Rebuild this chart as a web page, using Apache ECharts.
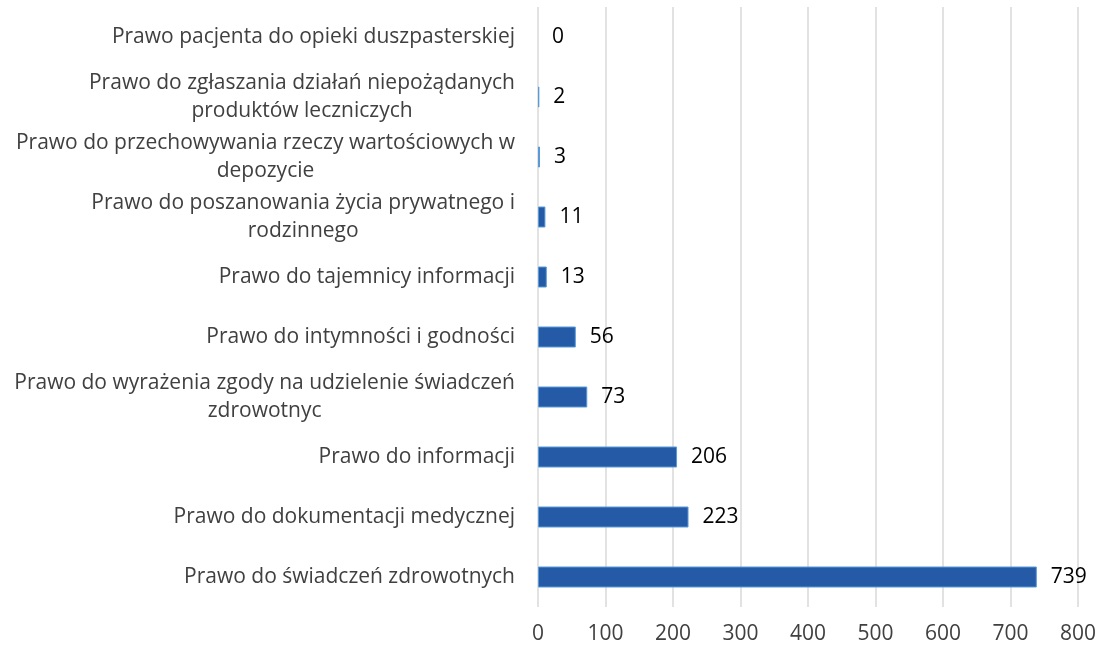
<!DOCTYPE html>
<html>
<head>
<meta charset="utf-8">
<script src="https://cdn.jsdelivr.net/npm/echarts@6/dist/echarts.min.js"></script>
<style>
  html, body { margin: 0; padding: 0; background: #fff; }
  #chart { width: 1104px; height: 647px; }
</style>
</head>
<body>
<div id="chart"></div>
<script>
// dane wykresu (od dołu do góry)
const categories = [
  'Prawo do świadczeń zdrowotnych',
  'Prawo do dokumentacji medycznej',
  'Prawo do informacji',
  'Prawo do wyrażenia zgody na udzielenie świadczeń\nzdrowotnyc',
  'Prawo do intymności i godności',
  'Prawo do tajemnicy informacji',
  'Prawo do poszanowania życia prywatnego i\nrodzinnego',
  'Prawo do przechowywania rzeczy wartościowych w\ndepozycie',
  'Prawo do zgłaszania działań niepożądanych\nproduktów leczniczych',
  'Prawo pacjenta do opieki duszpasterskiej'
]
const values = [739, 223, 206, 73, 56, 13, 11, 3, 2, 0]
const xTicks = [0, 800, 100] // min, max, interval

const chart = echarts.init(document.getElementById('chart'))

const font = 'Open Sans'

const option = {
  animation: false,
  textStyle: { fontFamily: font },
  grid: { left: 538, right: 26, top: 7, bottom: 40, containLabel: false },
  xAxis: {
    type: 'value',
    min: xTicks[0],
    max: xTicks[1],
    interval: xTicks[2],
    axisLine: { show: false },
    axisTick: { show: false },
    axisLabel: { color: '#404040', fontSize: 21, fontFamily: font, margin: 17 },
    splitLine: { lineStyle: { color: '#d9d9d9', width: 1.5 } }
  },
  yAxis: {
    type: 'category',
    data: categories,
    axisLine: { show: false },
    axisTick: { show: false },
    axisLabel: {
      margin: 23,
      formatter: function (v) {
        return v.split('\n').map(l => '{c|' + l + '}').join('\n')
      },
      rich: {
        c: { color: '#404040', fontSize: 21, fontFamily: font, align: 'center', lineHeight: 28 }
      }
    }
  },
  series: [{
    type: 'bar',
    // zerowy słupek bez obramowania
    data: values.map(v => (v === 0 ? { value: v, itemStyle: { borderWidth: 0 } } : v)),
    barWidth: 21,
    itemStyle: { color: '#255aa7', borderColor: '#5b9bd5', borderWidth: 1 },
    label: {
      show: true,
      position: 'right',
      distance: 14,
      color: '#000',
      fontSize: 21,
      fontFamily: font
    }
  }]
}

chart.setOption(option)
</script>
</body>
</html>
